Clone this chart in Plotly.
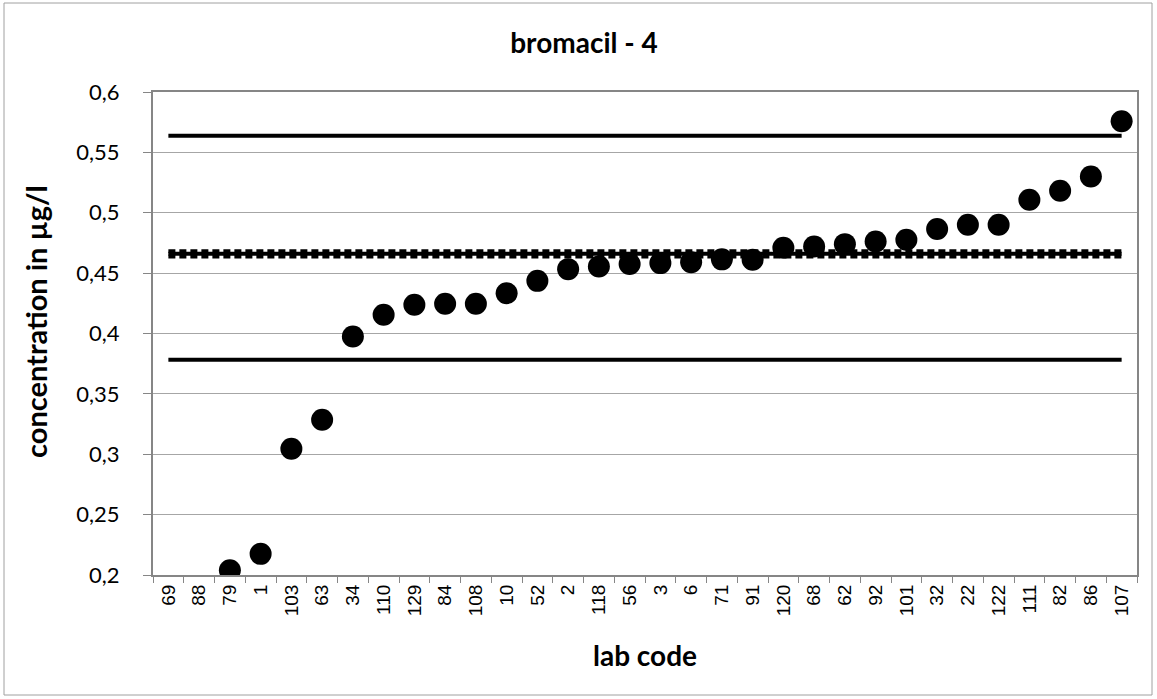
import plotly.graph_objects as go

lab_codes = ["69", "88", "79", "1", "103", "63", "34", "110", "129", "84", "108", "10",
             "52", "2", "118", "56", "3", "6", "71", "91", "120", "68", "62", "92",
             "101", "32", "22", "122", "111", "82", "86", "107"]
concentration = [None, None, 0.204, 0.2175, 0.3045, 0.3285, 0.3975, 0.4155, 0.4238, 0.4246,
                 0.4246, 0.4334, 0.4436, 0.4533, 0.4555, 0.4575, 0.4583, 0.4591, 0.4614, 0.461,
                 0.471, 0.4721, 0.474, 0.4762, 0.4776, 0.4865, 0.490, 0.490, 0.5108, 0.5182,
                 0.530, 0.5757]

assigned_value = 0.466
uncertainty_upper = 0.4682
uncertainty_lower = 0.4637
tolerance_upper = 0.5638
tolerance_lower = 0.3782

y_tick_values = [0.2, 0.25, 0.3, 0.35, 0.4, 0.45, 0.5, 0.55, 0.6]
y_tick_labels = ["0,2", "0,25", "0,3", "0,35", "0,4", "0,45", "0,5", "0,55", "0,6"]

ends = [lab_codes[0], lab_codes[-1]]

L, R, T, B = 153, 1137, 92, 575
PW, PH = R - L, B - T

fig = go.Figure()

def hline(v, dash=None):
    fig.add_trace(go.Scatter(
        x=ends, y=[v, v], mode="lines",
        line=dict(color="black", width=4, dash=dash),
        hoverinfo="skip", showlegend=False))

hline(tolerance_upper)
hline(tolerance_lower)
hline(assigned_value)
hline(uncertainty_upper, dash="7px,4px")
hline(uncertainty_lower, dash="7px,4px")

fig.add_trace(go.Scatter(
    x=lab_codes, y=concentration, mode="markers",
    marker=dict(color="black", size=22),
    showlegend=False))

fig.update_layout(
    width=1157, height=699,
    margin=dict(l=L, r=1157 - R, t=T, b=699 - B),
    paper_bgcolor="white", plot_bgcolor="white",
    title=dict(text="<b>bromacil - 4</b>", x=584 / 1157, xref="container", xanchor="center",
               y=1 - 43 / 699, yref="container", yanchor="middle",
               font=dict(family="Lato", size=28, color="black")),
    showlegend=False,
)

fig.update_xaxes(
    type="category", categoryorder="array", categoryarray=lab_codes,
    range=[-0.5, len(lab_codes) - 0.5],
    tickangle=-90, tickson="boundaries",
    ticks="outside", ticklen=6, tickcolor="#868686", tickwidth=1,
    tickfont=dict(family="Liberation Sans", size=19, color="black"),
    showgrid=False, showline=True, linecolor="#868686", linewidth=2,
    mirror=True, zeroline=False,
)

fig.update_yaxes(
    range=[0.2, 0.6], tickvals=y_tick_values, ticktext=y_tick_labels,
    ticks="outside", ticklen=8, tickcolor="#868686", tickwidth=1,
    ticklabelstandoff=19,
    tickfont=dict(family="Lato", size=22, color="black"),
    showgrid=True, gridcolor="#a6a6a6", gridwidth=1,
    showline=True, linecolor="#868686", linewidth=2, mirror=True, zeroline=False,
)

fig.add_annotation(text="<b>lab code</b>", xref="paper", yref="paper",
                   x=0.5, y=(B - 655) / PH, xanchor="center", yanchor="middle",
                   showarrow=False, font=dict(family="Lato", size=28, color="black"))
fig.add_annotation(text="<b>concentration in µg/l</b>", xref="paper", yref="paper",
                   x=(35 - L) / PW, y=(B - 322) / PH, xanchor="center", yanchor="middle",
                   textangle=-90, showarrow=False,
                   font=dict(family="Lato", size=29, color="black"))

# outer chart-area border
fig.add_shape(type="rect", xref="paper", yref="paper",
              x0=(4 - L) / PW, x1=(1152 - L) / PW,
              y0=(B - 695) / PH, y1=(B - 3) / PH,
              line=dict(color="#a0a0a0", width=1), layer="below")

fig.write_html("out.html", config={"displayModeBar": False},
               post_script="document.body.style.margin='0px';")
